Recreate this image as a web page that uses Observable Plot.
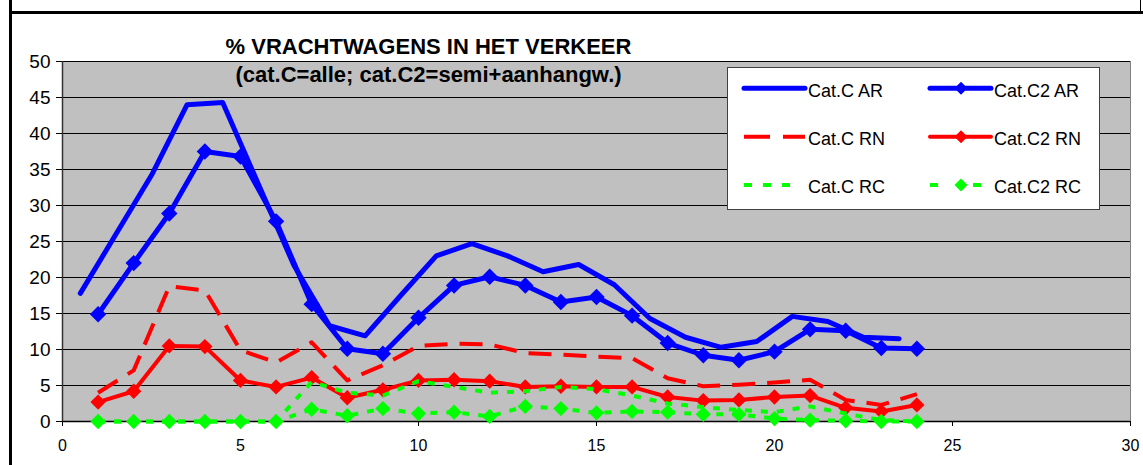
<!DOCTYPE html>
<html><head><meta charset="utf-8">
<script src="https://cdn.jsdelivr.net/npm/d3@7"></script>
<script src="https://cdn.jsdelivr.net/npm/@observablehq/plot@0.6"></script>
<style>
html,body{margin:0;padding:0;background:#fff;}
#wrap{position:relative;width:1143px;height:465px;overflow:hidden;font-family:"Liberation Sans",Arial,sans-serif;}
#wrap svg{display:block;}
.ttl{position:absolute;left:0;width:857px;text-align:center;font-weight:bold;font-size:22px;line-height:22px;color:#000;white-space:nowrap;}
.bar{position:absolute;background:#000;}
</style></head><body><div id="wrap"></div>
<script>
// x positions (hour) for Cat.C AR (plotted half a step earlier) and for the other series
const hoursC = [0.5,1.5,2.5,3.5,4.5,5.5,6.5,7.5,8.5,9.5,10.5,11.5,12.5,13.5,14.5,15.5,16.5,17.5,18.5,19.5,20.5,21.5,22.5,23.5];
const hours  = [1,2,3,4,5,6,7,8,9,10,11,12,13,14,15,16,17,18,19,20,21,22,23,24];

const catC_AR  = [17.8,26.0,34.2,44.0,44.3,33.0,21.7,13.3,11.9,17.5,23.0,24.7,23.0,20.8,21.8,19.0,14.3,11.7,10.3,11.1,14.6,13.9,11.7,11.5];
const catC2_AR = [14.9,22.0,28.9,37.5,36.8,27.8,16.3,10.1,9.4,14.4,18.9,20.1,18.9,16.6,17.3,14.7,10.9,9.2,8.5,9.7,12.8,12.6,10.2,10.1];
const catC_RN  = [4.0,7.1,18.8,18.2,9.9,8.2,11.0,5.7,7.8,10.5,10.8,10.7,9.5,9.3,9.0,8.8,6.0,4.9,5.1,5.4,5.8,3.0,2.3,3.8];
const catC2_RN = [2.7,4.2,10.5,10.4,5.7,4.8,6.1,3.3,4.4,5.7,5.8,5.6,4.8,4.9,4.8,4.8,3.4,2.9,3.0,3.4,3.6,1.9,1.4,2.3];
const catC_RC  = [0,0,0,0,0,0,5.5,4.0,3.6,5.6,4.8,4.0,4.2,4.8,4.5,3.6,2.5,2.0,1.6,1.3,2.1,1.1,0.2,0];
const catC2_RC = [0,0,0,0,0,0,1.7,0.8,1.8,1.1,1.3,0.7,2.1,1.8,1.2,1.4,1.3,1.0,1.0,0.4,0.2,0.1,0,0];

const xTicks = [0,5,10,15,20,25,30];
const yTicks = [0,5,10,15,20,25,30,35,40,45,50];
const seriesNames = ["Cat.C AR","Cat.C2 AR","Cat.C RN","Cat.C2 RN","Cat.C RC","Cat.C2 RC"];
const titleText = "% VRACHTWAGENS IN HET VERKEER";
const subtitleText = "(cat.C=alle; cat.C2=semi+aanhangw.)";

const BLUE="#0000ff", RED="#ff0000", GREEN="#00ff00";
const styles = [
  {xs:hoursC, ys:catC_AR,  color:BLUE,  w:5, dash:null,   marker:false, legDash:null,    legLen:61},
  {xs:hours,  ys:catC2_AR, color:BLUE,  w:5, dash:null,   marker:true, r:7.4, legDash:null, legLen:61},
  {xs:hours,  ys:catC_RN,  color:RED,   w:4, dash:"23,12",marker:false, legDash:"26,13", legLen:61},
  {xs:hours,  ys:catC2_RN, color:RED,   w:4, dash:null,   marker:true, r:6.9, legDash:null, legLen:61},
  {xs:hours,  ys:catC_RC,  color:GREEN, w:4, dash:"7,9",  marker:false, legDash:"8,11", legLen:49},
  {xs:hours,  ys:catC2_RC, color:GREEN, w:4, dash:"7,9",  marker:true, r:6.9, legDash:"8,35", legLen:51}
];

const seriesMarks = [];
styles.forEach((s,i)=>{
  const t = s.xs.map((x,j)=>({x, y:s.ys[j], series:seriesNames[i]}));
  seriesMarks.push(Plot.line(t,{x:"x",y:"y",stroke:s.color,strokeWidth:s.w,
    strokeDasharray:s.dash||undefined, strokeLinejoin:"round",
    strokeLinecap:s.dash?"butt":"round"}));
  if (s.marker) seriesMarks.push(Plot.dot(t,{x:"x",y:"y",symbol:"diamond2",r:s.r,fill:s.color,stroke:"none"}));
});

const chart = Plot.plot({
  width:1143, height:465,
  marginLeft:62, marginRight:13, marginTop:61, marginBottom:44,
  style:{fontFamily:"'Liberation Sans', Arial, sans-serif", background:"transparent", color:"#000"},
  x:{domain:[0,30]},
  y:{domain:[0,50]},
  marks:[
    Plot.frame({fill:"#c0c0c0", stroke:"#808080"}),
    Plot.gridY(yTicks.filter(d=>d>0),{stroke:"#000",strokeOpacity:1,strokeWidth:1}),
    Plot.ruleY([0],{stroke:"#000",strokeWidth:1.5}),
    Plot.ruleX([0],{stroke:"#333",strokeWidth:1.5}),
    Plot.axisY(yTicks,{tickSize:6,tickPadding:6,fontSize:19,fill:"#000",stroke:"#000",label:null}),
    Plot.axisX(xTicks,{tickSize:5,tickPadding:13,fontSize:16,fill:"#000",stroke:"#000",label:null}),
    ...seriesMarks
  ]
});

const wrap = document.getElementById("wrap");
wrap.appendChild(chart);

// frame bars
[[9,0,3,465],[9,11,1134,3],[1140,0,1,12]].forEach(([l,t,w,h])=>{
  const d=document.createElement("div"); d.className="bar";
  Object.assign(d.style,{left:l+"px",top:t+"px",width:w+"px",height:h+"px"});
  wrap.appendChild(d);
});

// titles
[[titleText,36],[subtitleText,63.5]].forEach(([txt,top])=>{
  const d=document.createElement("div"); d.className="ttl"; d.textContent=txt;
  d.style.top=top+"px"; wrap.appendChild(d);
});

// legend
const lg = d3.select(wrap).append("svg")
  .attr("width",374).attr("height",144)
  .style("position","absolute").style("left","727px").style("top","67px");
lg.append("rect").attr("x",0.5).attr("y",0.5).attr("width",372).attr("height",142)
  .attr("fill","#fff").attr("stroke","#404040");
const rowY=[21.3,69.7,118];
const legLayout = [
  {col:0,row:0},{col:1,row:0},{col:0,row:1},{col:1,row:1},{col:0,row:2},{col:1,row:2}
];
const colX=[17,203];
styles.forEach((s,i)=>{
  const {col,row}=legLayout[i];
  const x0=colX[col], x1=x0+s.legLen, y=rowY[row];
  lg.append("line").attr("x1",x0).attr("x2",x1).attr("y1",y).attr("y2",y)
    .attr("stroke",s.color).attr("stroke-width",s.w)
    .attr("stroke-dasharray",s.legDash)
    .attr("stroke-linecap",s.legDash?"butt":"round");
  if (s.marker){
    const cx=x0+31, h=6.5;
    lg.append("path").attr("d",`M${cx},${y-h}L${cx+h},${y}L${cx},${y+h}L${cx-h},${y}Z`).attr("fill",s.color);
  }
  lg.append("text").attr("x",x0+64).attr("y",y+8.3).attr("font-size",18)
    .attr("font-family","'Liberation Sans', Arial, sans-serif").attr("fill","#000")
    .text(seriesNames[i]);
});
</script>
</body></html>
